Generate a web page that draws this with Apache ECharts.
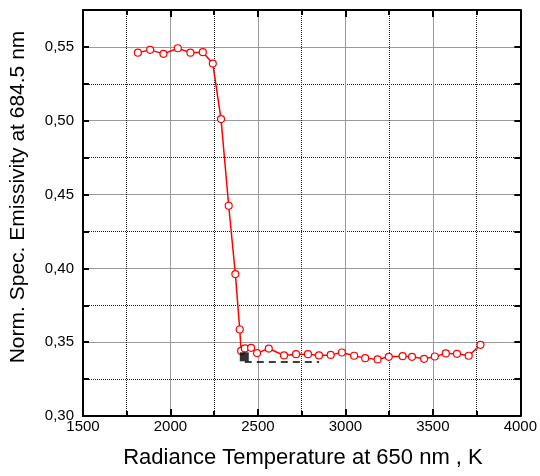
<!DOCTYPE html>
<html>
<head>
<meta charset="utf-8">
<script src="https://cdn.jsdelivr.net/npm/echarts@6/dist/echarts.min.js"></script>
<style>
html,body{margin:0;padding:0;background:#fff;}
#chart{width:540px;height:476px;}
</style>
</head>
<body>
<div id="chart"></div>
<script>
var temperatures = [1814, 1884, 1960, 2042, 2114, 2185, 2242, 2289, 2333, 2371, 2396, 2404, 2425, 2461, 2495, 2562, 2649, 2718, 2786, 2849, 2916, 2980, 3050, 3113, 3184, 3248, 3327, 3381, 3450, 3511, 3574, 3638, 3705, 3772];
var emissivity = [0.5461, 0.5480, 0.5453, 0.5491, 0.5461, 0.5464, 0.5387, 0.5011, 0.4424, 0.3961, 0.3586, 0.3441, 0.3458, 0.3462, 0.3426, 0.3457, 0.3410, 0.3419, 0.3419, 0.3410, 0.3414, 0.3430, 0.3408, 0.3392, 0.3383, 0.3401, 0.3405, 0.3401, 0.3387, 0.3403, 0.3424, 0.3421, 0.3408, 0.3482];
var squareT = [2422];
var squareE = [0.3401];
var dashT = [2425, 2850];
var dashE = [0.3365, 0.3365];
var xTicks = ['1500', '2000', '2500', '3000', '3500', '4000'];
var yTicks = ['0,30', '0,35', '0,40', '0,45', '0,50', '0,55'];

var font = "'Liberation Sans', Arial, sans-serif";
function pairs(a, b) { return a.map(function (v, i) { return [v, b[i]]; }); }

var chart = echarts.init(document.getElementById('chart'), null, {renderer: 'canvas'});
var axisLine = {show: true, onZero: false, lineStyle: {color: '#000', width: 2}};
var xBase = {
  type: 'value', min: Number(xTicks[0]), max: Number(xTicks[xTicks.length - 1]), interval: 500,
  axisLine: axisLine,
  axisTick: {show: true, inside: true, length: 7, lineStyle: {color: '#000', width: 2}},
  minorTick: {show: true, splitNumber: 2, length: 5, lineStyle: {color: '#000', width: 2}}
};
var option = {
  animation: false,
  backgroundColor: '#fff',
  grid: {left: 83, right: 19, top: 10, bottom: 60, containLabel: false},
  xAxis: [
    Object.assign({}, xBase, {
      position: 'bottom',
      axisLabel: {
        show: true, color: '#000', fontSize: 15, fontFamily: font, margin: 3,
        formatter: function (v) {
          var idx = Math.round((v - Number(xTicks[0])) / 500);
          return xTicks[idx] || '';
        }
      },
      splitLine: {show: true, lineStyle: {color: '#9a9a9a', width: 1, type: 'solid'}},
      minorSplitLine: {show: true, lineStyle: {color: '#222', width: 1, type: 'dotted'}}
    }),
    Object.assign({}, xBase, {
      position: 'top',
      axisLabel: {show: false},
      splitLine: {show: false}
    })
  ],
  yAxis: [
    {
      type: 'value', min: 0.30, max: 0.575, interval: 0.05, position: 'left',
      axisLine: axisLine,
      axisTick: {show: false},
      axisLabel: {
        show: true, color: '#000', fontSize: 15, fontFamily: font, margin: 9,
        formatter: function (v) {
          var idx = Math.round((v - 0.30) / 0.05);
          if (Math.abs(v - (0.30 + idx * 0.05)) > 1e-6 || idx >= yTicks.length) return '';
          return yTicks[idx];
        }
      },
      splitLine: {show: true, lineStyle: {color: '#9a9a9a', width: 1, type: 'solid'}}
    },
    {
      type: 'value', min: 0.30, max: 0.575, interval: 0.025, position: 'left',
      axisLine: {show: false},
      axisTick: {show: true, inside: true, length: 6, lineStyle: {color: '#000', width: 2}},
      axisLabel: {show: false},
      splitLine: {show: true, lineStyle: {color: ['rgba(0,0,0,0)', '#222'], width: 1, type: 'dotted'}}
    },
    {
      type: 'value', min: 0.30, max: 0.575, interval: 0.025, position: 'right',
      axisLine: axisLine,
      axisTick: {show: true, inside: true, length: 6, lineStyle: {color: '#000', width: 2}},
      axisLabel: {show: false},
      splitLine: {show: false}
    }
  ],
  series: [
    {
      type: 'line', xAxisIndex: 0, yAxisIndex: 0, z: 3,
      data: pairs(dashT, dashE),
      symbol: 'none',
      lineStyle: {color: '#000', width: 1.5, type: [7, 5]}
    },
    {
      type: 'line', xAxisIndex: 0, yAxisIndex: 0, z: 4,
      data: pairs(temperatures, emissivity),
      symbol: 'circle', symbolSize: 7, showAllSymbol: true,
      lineStyle: {color: '#ff0000', width: 1.5},
      itemStyle: {color: '#fff', borderColor: '#ff0000', borderWidth: 1.2}
    },
    {
      type: 'scatter', xAxisIndex: 0, yAxisIndex: 0, z: 5,
      data: pairs(squareT, squareE),
      symbol: 'rect', symbolSize: 9,
      itemStyle: {color: '#000'}
    }
  ],
  graphic: [
    {
      type: 'text', x: 18, y: 197, rotation: Math.PI / 2,
      style: {text: 'Norm. Spec. Emissivity at 684.5 nm', fontSize: 21, fontFamily: font, fill: '#000', align: 'center', verticalAlign: 'middle'}
    },
    {
      type: 'text', x: 303, y: 458,
      style: {text: 'Radiance Temperature at 650 nm , K', fontSize: 22, fontFamily: font, fill: '#000', align: 'center', verticalAlign: 'middle'}
    }
  ]
};
chart.setOption(option);
</script>
</body>
</html>
